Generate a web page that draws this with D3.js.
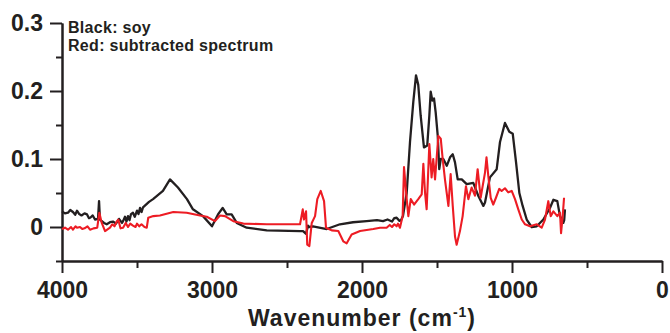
<!DOCTYPE html>
<html><head><meta charset="utf-8">
<script src="https://cdn.jsdelivr.net/npm/d3@7"></script>
<style>body{margin:0;background:#fff}svg{display:block}text{font-family:"Liberation Sans",Arial,sans-serif;font-weight:bold;fill:#231f20}</style>
</head><body>
<script>
const xMajorTicks = [4000, 3000, 2000, 1000, 0];
const xMinorTicks = [3500, 2500, 1500, 500];
const yMajorTicks = [0.3, 0.2, 0.1, 0];
const yMinorTicks = [0.25, 0.15, 0.05, -0.05];
const legendLines = ["Black: soy", "Red: subtracted spectrum"];
const xTitle = "Wavenumber (cm";
const xTitleSup = "-1";

const soyWavenumber = [4000,3980,3960,3945,3927,3912,3900,3885,3870,3850,3833,3820,3810,3795,3780,3760,3753,3747,3720,3702,3680,3660,3640,3620,3600,3593,3580,3570,3560,3550,3540,3527,3515,3500,3490,3480,3470,3460,3440,3420,3393,3327,3280,3227,3167,3127,3060,3000,2960,2929,2902,2869,2835,2769,2635,2413,2393,2373,2360,2353,2327,2235,2147,2060,1969,1900,1860,1830,1800,1785,1769,1750,1740,1727,1702,1680,1658,1640,1625,1609,1587,1565,1551,1542,1531,1520,1509,1495,1485,1475,1458,1435,1413,1395,1380,1362,1335,1302,1258,1225,1191,1180,1147,1102,1080,1047,1018,995,973,951,929,902,869,835,791,747,724,698,680,658,652,647];
const soyAbsorbance = [0.023,0.020,0.021,0.025,0.022,0.018,0.024,0.019,0.017,0.020,0.0185,0.013,0.014,0.017,0.011,0.012,0.038,0.011,0.006,0.004,0.007,0.008,0.005,0.012,0.006,0.0086,0.015,0.008,0.016,0.010,0.019,0.021,0.015,0.024,0.019,0.028,0.022,0.029,0.033,0.037,0.041,0.053,0.070,0.058,0.041,0.026,0.016,0.001,0.0185,0.028,0.0185,0.0185,0.006,-0.001,-0.005,-0.006,-0.006,-0.010,0.002,0.000,0.001,-0.003,0.004,0.007,0.0086,0.010,0.0086,0.011,0.008,0.013,0.0136,0.009,0.010,0.016,0.050,0.125,0.184,0.223,0.209,0.164,0.117,0.120,0.164,0.199,0.186,0.189,0.169,0.134,0.085,0.100,0.100,0.090,0.1025,0.107,0.095,0.070,0.070,0.063,0.065,0.046,0.031,0.036,0.073,0.085,0.125,0.153,0.140,0.137,0.095,0.050,0.031,0.011,0.000,0.001,0.011,0.028,0.040,0.038,0.016,0.006,0.010,0.026];

const subWavenumber = [4000,3980,3960,3940,3927,3910,3900,3880,3865,3850,3830,3813,3790,3765,3751,3735,3713,3680,3665,3650,3635,3625,3610,3593,3575,3560,3545,3527,3510,3500,3485,3470,3450,3435,3425,3391,3347,3258,3169,3080,3035,2980,2947,2913,2858,2791,2635,2413,2395,2387,2373,2365,2351,2335,2313,2298,2275,2253,2240,2202,2158,2125,2102,2069,2013,1925,1880,1836,1815,1800,1785,1769,1760,1747,1729,1720,1702,1691,1675,1653,1625,1602,1591,1580,1569,1551,1536,1525,1513,1491,1475,1462,1447,1424,1409,1395,1380,1369,1347,1329,1307,1291,1269,1247,1229,1209,1180,1170,1158,1142,1125,1107,1085,1069,1047,1025,1002,980,958,935,913,880,835,802,780,758,742,724,698,680,673,662,653];
const subAbsorbance = [-0.003,-0.001,-0.004,0.000,-0.004,0.001,-0.001,0.000,-0.003,-0.002,0.001,-0.004,-0.002,-0.001,0.021,0.006,-0.006,-0.001,0.004,0.001,0.008,0.011,-0.002,-0.001,0.006,0.000,0.005,0.002,0.000,0.005,0.001,0.004,0.000,-0.001,0.0136,0.016,0.017,0.022,0.021,0.017,0.015,0.0086,0.017,0.016,0.0086,0.005,0.004,0.004,0.026,0.011,0.023,-0.026,-0.028,0.006,0.016,0.041,0.053,0.038,-0.001,-0.005,-0.006,-0.021,-0.024,-0.011,-0.006,-0.003,-0.001,-0.001,0.003,0.000,0.004,0.001,0.005,-0.001,0.016,0.088,0.041,0.016,0.041,0.033,0.041,0.048,0.093,0.051,0.026,0.122,0.073,0.100,0.070,0.134,0.130,0.100,0.070,0.031,0.078,0.031,-0.014,-0.026,-0.006,0.016,0.060,0.041,0.058,0.046,0.085,0.043,0.080,0.1025,0.075,0.043,0.033,0.043,0.056,0.053,0.057,0.051,0.053,0.041,0.026,0.011,0.004,0.001,0.004,-0.001,0.011,0.038,0.016,0.023,0.016,0.021,-0.009,0.016,0.043];

const W = 670, H = 333;
const svg = d3.select("body").append("svg").attr("width", W).attr("height", H);
const x = d3.scaleLinear().domain([4000, 0]).range([62, 662]);
const y = d3.scaleLinear().domain([-0.05, 0.3]).range([261, 23]);
const ink = "#231f20";

// x axis
const xa = svg.append("g").attr("transform", `translate(0,${y(-0.05)})`)
  .call(d3.axisBottom(x).tickValues(xMajorTicks).tickSize(12).tickSizeOuter(0).tickFormat(d3.format("d")).tickPadding(9));
const xm = svg.append("g").attr("transform", `translate(0,${y(-0.05)})`)
  .call(d3.axisBottom(x).tickValues(xMinorTicks).tickSize(7).tickSizeOuter(0).tickFormat(""));
// y axis
const ya = svg.append("g").attr("transform", `translate(${x(4000)},0)`)
  .call(d3.axisLeft(y).tickValues(yMajorTicks).tickSize(12).tickSizeOuter(0).tickFormat(d => d === 0 ? "0" : d3.format(".1f")(d)).tickPadding(7));
const ym = svg.append("g").attr("transform", `translate(${x(4000)},0)`)
  .call(d3.axisLeft(y).tickValues(yMinorTicks).tickSize(6).tickSizeOuter(0).tickFormat(""));
[xa, xm, ya, ym].forEach(g => {
  g.selectAll("path.domain").attr("stroke", ink).attr("stroke-width", 2);
  g.selectAll(".tick line").attr("stroke", ink).attr("stroke-width", 2);
  g.selectAll("text").attr("font-size", 23).attr("font-weight", "bold").attr("fill", ink)
    .attr("font-family", '"Liberation Sans", Arial, sans-serif');
});

const line = d3.line().x(d => x(d[0])).y(d => y(d[1]));
svg.append("path").datum(soyWavenumber.map((w, i) => [w, soyAbsorbance[i]]))
  .attr("d", line).attr("fill", "none").attr("stroke", ink).attr("stroke-width", 2.3).attr("stroke-linejoin", "round");
svg.append("path").datum(subWavenumber.map((w, i) => [w, subAbsorbance[i]]))
  .attr("d", line).attr("fill", "none").attr("stroke", "#ed1c24").attr("stroke-width", 2.1).attr("stroke-linejoin", "round");

// legend text
legendLines.forEach((t, i) => {
  svg.append("text").attr("x", 68).attr("y", 33 + i * 18).attr("font-size", 16).attr("letter-spacing", 0.3).text(t);
});

// x title
const tt = svg.append("text").attr("x", 362).attr("y", 326).attr("text-anchor", "middle").attr("font-size", 23).attr("letter-spacing", 1);
tt.append("tspan").text(xTitle);
tt.append("tspan").attr("font-size", 14).attr("dy", -9).text(xTitleSup);
tt.append("tspan").attr("dy", 9).text(")");
</script>
</body></html>
